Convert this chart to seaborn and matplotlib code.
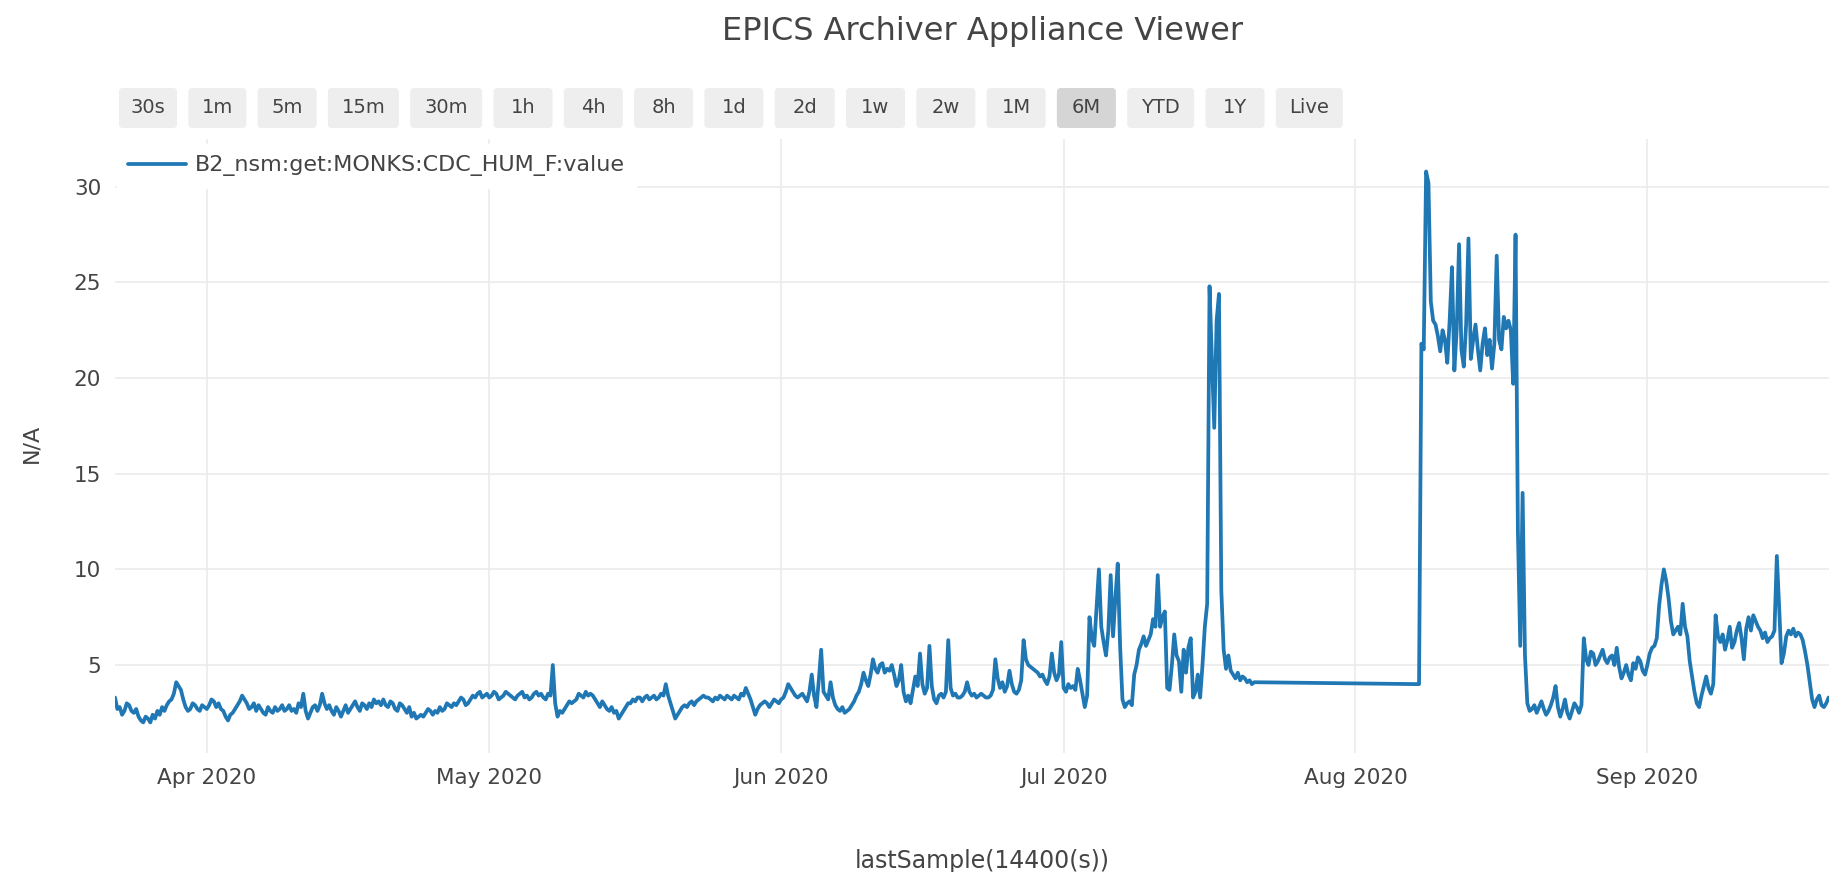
import pandas as pd
import seaborn as sns
import matplotlib
matplotlib.use('Agg')
import matplotlib.pyplot as plt
import matplotlib.dates as mdates
from matplotlib.patches import FancyBboxPatch

# PV name and archived samples, one value every 6h
pv_name = 'B2_nsm:get:MONKS:CDC_HUM_F:value'

# March, from 22 Mar 06:00
mar_vals = [3.3, 2.7, 2.8,
            2.4, 2.6, 3.0, 2.9, 2.6, 2.5, 2.7, 2.3,
            2.1, 2.0, 2.3, 2.2, 2.0, 2.4, 2.2, 2.6,
            2.4, 2.8, 2.6, 2.9, 3.1, 3.2, 3.5, 4.1,
            3.9, 3.7, 3.2, 2.8, 2.6, 2.7, 3.0, 2.9,
            2.7, 2.6, 2.9, 2.8]

# April, from 1 Apr 00:00
apr_vals = [2.7, 2.9, 3.2, 3.1, 2.8, 3.0, 2.7, 2.6,
            2.3, 2.1, 2.4, 2.5, 2.7, 2.9, 3.1, 3.4,
            3.2, 3.0, 2.7, 2.8, 3.0, 2.6, 2.9, 2.7,
            2.5, 2.4, 2.8, 2.6, 2.5, 2.8, 2.6, 2.7,
            2.9, 2.6, 2.7, 2.9, 2.6, 2.7, 2.5, 3.0,
            2.8, 3.5, 2.6, 2.2, 2.5, 2.8, 2.9, 2.6,
            2.9, 3.5, 3.0, 2.7, 2.9, 2.6, 2.4, 2.8,
            2.6, 2.3, 2.6, 2.9, 2.5, 2.7, 2.9, 3.1,
            2.8, 2.6, 3.0, 2.9, 2.7, 3.0, 2.8, 3.2,
            3.0, 3.1, 2.9, 3.2, 2.9, 2.8, 3.1, 3.0,
            2.7, 2.6, 3.0, 2.9, 2.7, 2.5, 2.8, 2.3,
            2.5, 2.2, 2.3, 2.4, 2.3, 2.5, 2.7, 2.6,
            2.4, 2.6, 2.5, 2.8, 2.6, 2.7, 3.0, 2.9,
            2.8, 3.0, 2.9, 3.1, 3.3, 3.2, 2.9, 3.0,
            3.2, 3.4, 3.3, 3.5, 3.6, 3.3, 3.4, 3.5]

# May
may_vals = [3.3, 3.4, 3.6, 3.5, 3.2, 3.3, 3.4, 3.6,
            3.5, 3.4, 3.3, 3.2, 3.4, 3.5, 3.6, 3.3,
            3.4, 3.2, 3.3, 3.5, 3.6, 3.4, 3.5, 3.3,
            3.2, 3.5, 3.4, 5.0, 3.0, 2.3, 2.6, 2.5,
            2.7, 2.9, 3.1, 3.0, 3.1, 3.2, 3.5, 3.4,
            3.3, 3.6, 3.4, 3.5, 3.4, 3.2, 3.0, 2.8,
            3.1, 2.9, 2.7, 2.6, 2.8, 2.5, 2.6, 2.2,
            2.4, 2.6, 2.8, 3.0, 3.0, 3.2, 3.1, 3.3,
            3.3, 3.1, 3.3, 3.4, 3.2, 3.3, 3.4, 3.2,
            3.3, 3.5, 3.4, 4.0, 3.4, 3.0, 2.6, 2.2,
            2.4, 2.6, 2.8, 2.9, 2.8, 3.0, 3.1, 2.9,
            3.1, 3.2, 3.3, 3.4, 3.3, 3.3, 3.2, 3.1,
            3.3, 3.2, 3.4, 3.3, 3.2, 3.4, 3.3, 3.2,
            3.4, 3.3, 3.2, 3.5, 3.4, 3.8, 3.5, 3.2,
            2.8, 2.4, 2.7, 2.9, 3.0, 3.1, 3.0, 2.8,
            3.0, 3.2, 3.1, 3.0]

# June
jun_vals = [3.2, 3.3, 3.6, 4.0, 3.8, 3.6, 3.4, 3.3,
            3.4, 3.5, 3.3, 3.1, 3.6, 4.5, 3.4, 2.8,
            4.2, 5.8, 3.6, 3.4, 3.2, 4.1, 3.3, 2.9,
            2.7, 2.6, 2.8, 2.5, 2.6, 2.7, 2.9, 3.1,
            3.4, 3.6, 4.0, 4.6, 4.2, 3.9, 4.5, 5.3,
            4.8, 4.6, 5.0, 5.1, 4.6, 4.8, 4.7, 5.0,
            4.5, 3.9, 4.2, 5.0, 3.6, 3.1, 3.4, 3.0,
            3.7, 4.4, 3.9, 5.6, 4.0, 3.5, 3.8, 6.0,
            3.9, 3.2, 3.0, 3.4, 3.5, 3.3, 3.6, 6.3,
            3.8, 3.4, 3.5, 3.3, 3.3, 3.4, 3.6, 4.1,
            3.6, 3.4, 3.5, 3.3, 3.4, 3.5, 3.4, 3.3,
            3.3, 3.4, 3.7, 5.3, 4.3, 3.8, 4.1, 3.6,
            3.9, 4.7, 4.0, 3.6, 3.5, 3.7, 4.2, 6.3,
            5.3, 5.0, 4.9, 4.8, 4.7, 4.6, 4.4, 4.5,
            4.2, 4.0, 4.4, 5.6, 4.6, 4.2, 4.5, 6.2]

# July, until 21 Jul 06:00
jul_vals = [3.8, 3.6, 4.0, 3.8, 3.9, 3.7, 4.8, 4.2,
            3.5, 2.8, 3.4, 7.5, 6.4, 6.0, 8.0, 10.0,
            7.0, 6.2, 5.5, 6.8, 9.7, 6.5, 8.5, 10.3,
            6.0, 3.2, 2.8, 3.0, 3.1, 2.9, 4.5, 5.0,
            5.8, 6.1, 6.5, 6.0, 6.3, 6.6, 7.4, 7.0,
            9.7, 7.0, 7.5, 7.8, 3.8, 3.7, 5.0, 6.6,
            5.5, 5.2, 3.6, 5.8, 4.6, 5.9, 6.4, 3.3,
            3.6, 4.5, 3.3, 5.0, 7.0, 8.2, 24.8, 21.0,
            17.4, 23.0, 24.4, 8.9, 5.8, 4.8, 5.5, 4.7,
            4.5, 4.3, 4.6, 4.2, 4.4, 4.3, 4.1, 4.2,
            4.0, 4.1]

# August, after the archiving gap, from 7 Aug 18:00 to 19 Aug 06:00
aug_vals = [4.0,
            21.8, 21.5, 30.8, 30.2, 24.0, 23.0, 22.8, 22.2,
            21.4, 22.5, 22.0, 20.8, 23.0, 25.8, 20.4, 22.5,
            27.0, 21.5, 20.6, 22.8, 27.3, 21.0, 22.0, 22.8,
            21.5, 20.4, 21.8, 22.6, 21.2, 22.0, 20.5, 21.8,
            26.4, 22.0, 21.5, 23.2, 22.6, 23.0, 22.5, 19.7,
            27.5, 12.0, 6.0, 14.0, 5.5, 3.0]

# late August, from 19 Aug 12:00
aug_late_vals = [2.6, 2.7,
                 2.9, 2.5, 2.8, 3.1, 2.7, 2.4, 2.6, 2.9,
                 3.3, 3.9, 2.8, 2.3, 2.7, 3.2, 2.5, 2.2,
                 2.6, 3.0, 2.8, 2.5, 2.9, 6.4, 5.3, 5.0,
                 5.7, 5.6, 5.0, 5.2, 5.5, 5.8, 5.3, 5.1,
                 5.4, 5.5, 5.0, 5.9, 4.9, 4.3, 4.6, 5.0,
                 4.5, 4.2, 5.1, 4.8, 5.4, 5.2, 4.7, 4.5]

# September
sep_vals = [5.0, 5.6, 5.9, 6.0, 6.4, 8.1, 9.2, 10.0,
            9.4, 8.5, 7.3, 6.6, 6.8, 7.0, 6.6, 8.2,
            7.0, 6.5, 5.2, 4.4, 3.6, 3.0, 2.8, 3.4,
            3.9, 4.4, 3.8, 3.5, 4.0, 7.6, 6.5, 6.2,
            6.6, 5.8, 6.3, 7.0, 5.9, 6.2, 6.8, 7.2,
            6.4, 5.3, 6.9, 7.5, 6.8, 7.6, 7.3, 7.0,
            6.8, 6.4, 6.7, 6.2, 6.4, 6.5, 6.8, 10.7,
            8.0, 5.1, 5.6, 6.5, 6.8, 6.6, 6.9, 6.5,
            6.7, 6.6, 6.3, 5.7, 5.0, 4.1, 3.2, 2.8,
            3.2, 3.4, 2.9, 2.8, 3.0, 3.3, 3.1, 2.9]

segments = [('2020-03-22 06:00', mar_vals),
            ('2020-04-01 00:00', apr_vals),
            ('2020-05-01 00:00', may_vals),
            ('2020-06-01 00:00', jun_vals),
            ('2020-07-01 00:00', jul_vals),
            ('2020-08-07 18:00', aug_vals),
            ('2020-08-19 12:00', aug_late_vals),
            ('2020-09-01 00:00', sep_vals)]

df = pd.concat([pd.DataFrame({'time': pd.date_range(s, periods=len(v), freq='6h'), 'value': v})
                for s, v in segments], ignore_index=True)

# range selector buttons of the viewer
buttons = ['30s', '1m', '5m', '15m', '30m', '1h', '4h', '8h', '1d', '2d',
           '1w', '2w', '1M', '6M', 'YTD', '1Y', 'Live']
btn_w = [58, 58, 59, 71, 72, 59, 59, 59, 59, 60, 59, 59, 59, 59, 67, 59, 67]

sns.set_theme(style='white')
plt.rcParams['font.family'] = ['DejaVu Sans']
txt = '#444444'

W, H = 1829, 872
fig = plt.figure(figsize=(W / 100, H / 100), dpi=100)
ax = fig.add_axes([115 / W, (H - 753) / H, (W - 115) / W, 614 / H])

sns.lineplot(data=df, x='time', y='value', ax=ax, color='#1f77b4',
             linewidth=2.7, estimator=None, label=pv_name)

ax.set_xlim(pd.Timestamp('2020-03-22 06:00'), pd.Timestamp('2020-09-20 07:00'))
ax.set_ylim(0.4, 32.5)
ax.set_yticks([5, 10, 15, 20, 25, 30])
ax.xaxis.set_major_locator(mdates.MonthLocator())
ax.xaxis.set_major_formatter(mdates.DateFormatter('%b %Y'))
ax.grid(True, color='#ebebeb', linewidth=1.2)
ax.set_axisbelow(True)
for s in ax.spines.values():
    s.set_visible(False)
ax.tick_params(length=0, labelsize=15.5, labelcolor=txt)
ax.tick_params(axis='y', pad=10)
ax.tick_params(axis='x', pad=11)

ax.set_xlabel('lastSample(14400(s))', fontsize=17, color=txt)
ax.xaxis.set_label_coords((982 - 115) / (W - 115), -(861 - 753) / 614)
ax.xaxis.label.set_va('center')
ax.set_ylabel('N/A', fontsize=16, color=txt)
ax.yaxis.set_label_coords((31 - 115) / (W - 115), (753 - 443) / 614)
ax.yaxis.label.set_va('center')

leg = ax.legend(loc='center left', bbox_to_anchor=(117 / W, 1 - 166 / H),
                bbox_transform=fig.transFigure, frameon=True, fancybox=False,
                framealpha=1, facecolor='white', edgecolor='white',
                borderpad=0.5, borderaxespad=0, handlelength=2.6,
                handletextpad=0.4, fontsize=16)
for t in leg.get_texts():
    t.set_color(txt)

fig.text(983 / W, 1 - 31.5 / H, 'EPICS Archiver Appliance Viewer',
         ha='center', va='center', fontsize=23, color=txt)

# buttons, in pixel units via the inch transform
x = 119
for lab, w in zip(buttons, btn_w):
    face = '#d5d5d5' if lab == '6M' else '#eeeeee'
    fig.patches.append(FancyBboxPatch(
        (x / 100, (H - 128) / 100), w / 100, 40 / 100,
        boxstyle='round,pad=0,rounding_size=0.04',
        transform=fig.dpi_scale_trans, facecolor=face, edgecolor='none'))
    fig.text((x + w / 2) / 100, (H - 107.5) / 100, lab, transform=fig.dpi_scale_trans,
             ha='center', va='center', fontsize=14, color=txt)
    x += w + 11.3

fig.savefig('out.png', dpi=100)
